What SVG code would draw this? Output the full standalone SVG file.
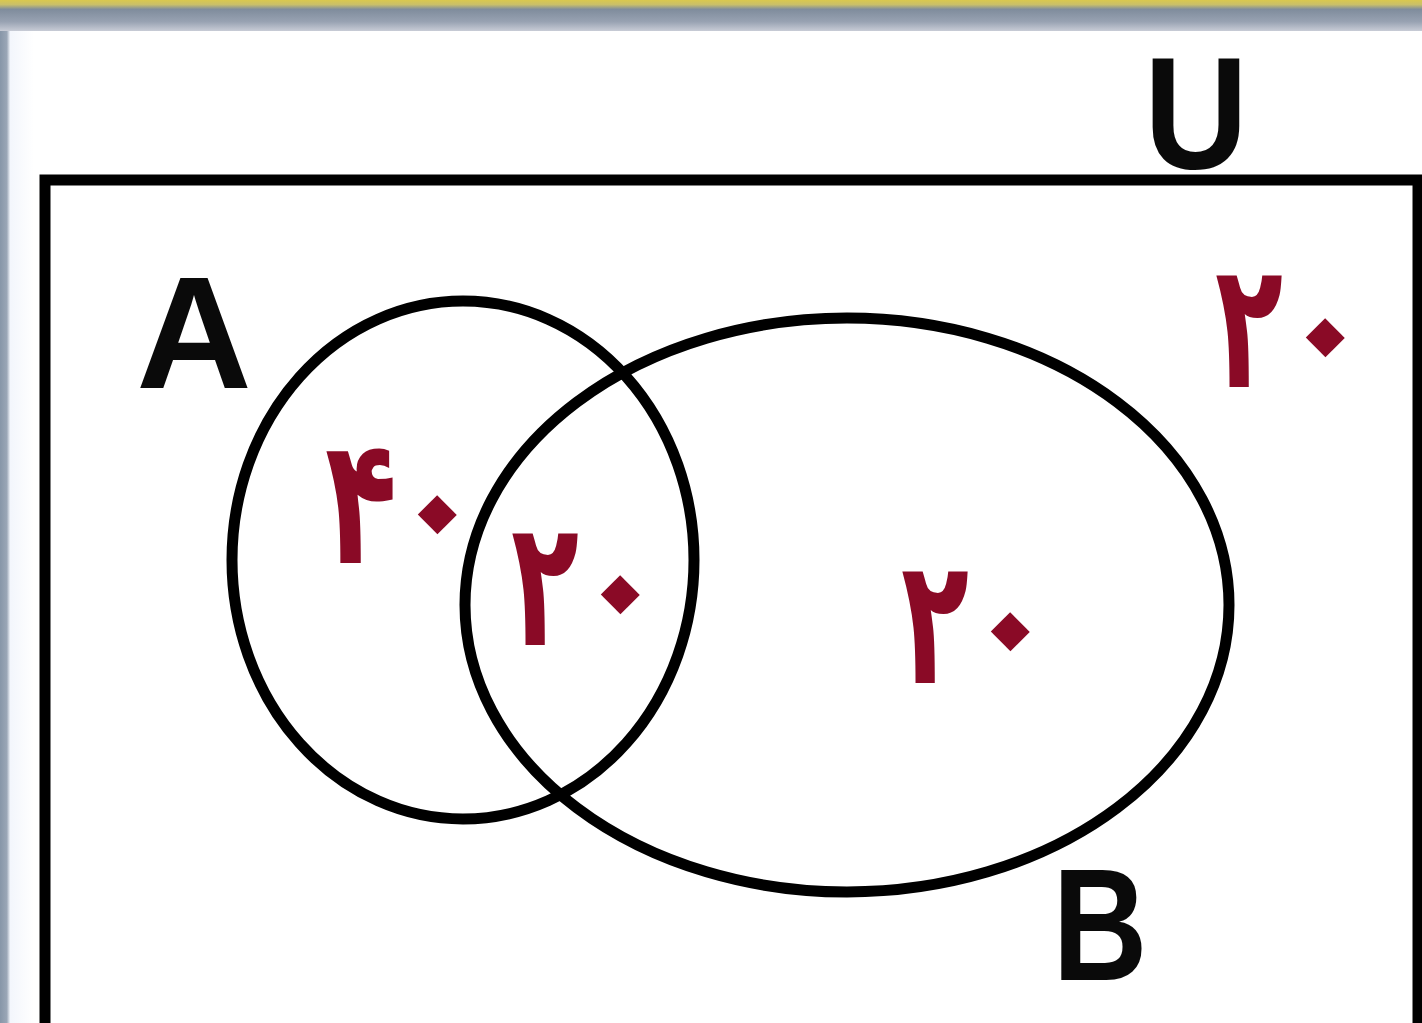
<svg xmlns="http://www.w3.org/2000/svg" width="1422" height="1023" viewBox="0 0 1422 1023">
  <defs>
    <linearGradient id="bar" x1="0" y1="0" x2="0" y2="1">
      <stop offset="0" stop-color="#d9c84e"/>
      <stop offset="0.15" stop-color="#c9bf6a"/>
      <stop offset="0.3" stop-color="#7f8c9c"/>
      <stop offset="0.7" stop-color="#98a2b2"/>
      <stop offset="1" stop-color="#c8ccd6"/>
    </linearGradient>
    <linearGradient id="side" x1="0" y1="0" x2="1" y2="0">
      <stop offset="0" stop-color="#8796a8"/>
      <stop offset="0.2" stop-color="#9aa6b6"/>
      <stop offset="0.3" stop-color="#f3f6fc"/>
      <stop offset="1" stop-color="#ffffff"/>
    </linearGradient>
  </defs>
  <style>
    .shape { fill: none; stroke: #000; stroke-width: 11; }
    .label { font-family: "Liberation Sans", Arial, sans-serif; font-weight: bold; font-size: 160px; fill: #0a0a0a; text-anchor: middle; }
    .num { font-family: "DejaVu Sans", "Noto Sans", sans-serif; font-weight: bold; fill: #8a0a26; text-anchor: start; }
    .d { font-size: 176px; }
    .z { font-size: 160px; }
  </style>
  <rect x="0" y="0" width="1422" height="1023" fill="#ffffff"/>
  <rect x="0" y="30" width="34" height="993" fill="url(#side)"/>
  <rect x="0" y="0" width="1422" height="31" fill="url(#bar)"/>

  <g id="universe">
    <rect class="shape" x="45" y="180" width="1373" height="880" stroke-width="12"/>
    <text class="label" x="1196" y="168" textLength="104" lengthAdjust="spacingAndGlyphs">U</text>
    <text class="num"><tspan class="d" x="1215" y="387" textLength="68" lengthAdjust="spacingAndGlyphs">۲</tspan><tspan class="z" x="1259" y="335" rotate="45">۰</tspan></text>
  </g>
  <g id="setA">
    <ellipse class="shape" cx="463" cy="560" rx="231" ry="259"/>
    <text class="label" x="194" y="388">A</text>
    <text class="num"><tspan class="d" x="325" y="563" textLength="72" lengthAdjust="spacingAndGlyphs">۴</tspan><tspan class="z" x="371" y="512" rotate="45">۰</tspan></text>
  </g>
  <g id="setB">
    <ellipse class="shape" cx="847" cy="605" rx="382" ry="287"/>
    <text class="label" x="1100" y="980" textLength="95" lengthAdjust="spacingAndGlyphs">B</text>
    <text class="num"><tspan class="d" x="901" y="683" textLength="68" lengthAdjust="spacingAndGlyphs">۲</tspan><tspan class="z" x="944" y="629" rotate="45">۰</tspan></text>
  </g>
  <g id="intersection">
    <text class="num"><tspan class="d" x="511" y="645" textLength="68" lengthAdjust="spacingAndGlyphs">۲</tspan><tspan class="z" x="554" y="592" rotate="45">۰</tspan></text>
  </g>
  <g id="connectors"></g>
</svg>
